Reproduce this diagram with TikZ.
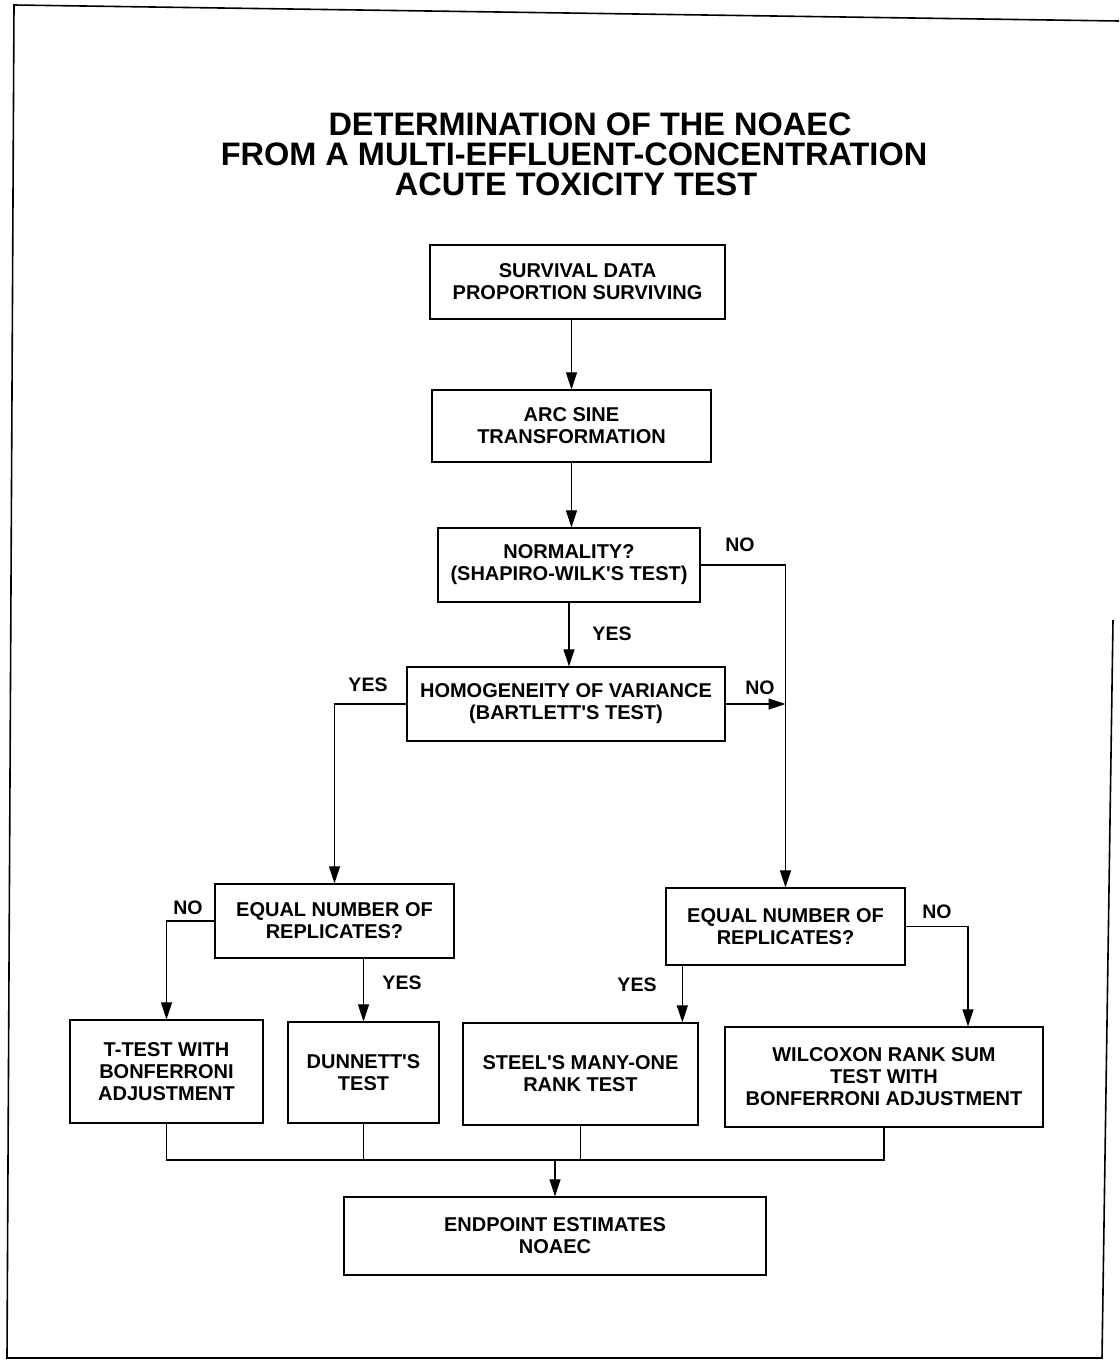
\documentclass[tikz,border=0pt]{standalone}
\usepackage{fontspec}
\setmainfont{Liberation Sans}[Ligatures=TeXOff]
\usetikzlibrary{arrows.meta,calc}
\begin{document}
\begin{tikzpicture}[x=1pt,y=-1pt,
  box/.style={draw, line width=1.3pt, align=center, inner sep=0pt,
    font=\bfseries\fontsize{20}{22}\selectfont},
  lab/.style={font=\bfseries\fontsize{19.5}{22}\selectfont, inner sep=0pt},
  ttl/.style={font=\bfseries\fontsize{32.5}{30}\selectfont, inner sep=0pt},
  conn/.style={line width=1.2pt},
  arr/.style={conn, -{Triangle[length=17pt,width=11pt]}}]
\useasboundingbox (0,0) rectangle (1119,1365);
% page frame
\draw[line width=1.6pt] (1119,21) -- (14,5) -- (7,1358) -- (1102,1358) -- (1113,620);
% title
\node[ttl] (t1) at (590,124) {DETERMINATION OF THE NOAEC};
\node[ttl] (t2) at (574,154) {FROM A MULTI-EFFLUENT-CONCENTRATION};
\node[ttl] (t3) at (576,184) {ACUTE TOXICITY TEST};
% boxes
\node[box, minimum width=295, minimum height=74] (b1) at (577.5,282) {SURVIVAL DATA\\PROPORTION SURVIVING};
\node[box, minimum width=279, minimum height=72] (b2) at (571.5,426) {ARC SINE\\TRANSFORMATION};
\node[box, minimum width=262, minimum height=74] (b3) at (569,565) {NORMALITY?\\(SHAPIRO-WILK'S TEST)};
\node[box, minimum width=318, minimum height=74] (b4) at (566,704) {HOMOGENEITY OF VARIANCE\\(BARTLETT'S TEST)};
\node[box, minimum width=239, minimum height=74] (b5) at (334.5,921) {EQUAL NUMBER OF\\REPLICATES?};
\node[box, minimum width=239, minimum height=77] (b6) at (785.5,926.5) {EQUAL NUMBER OF\\REPLICATES?};
\node[box, minimum width=193, minimum height=103] (b7) at (166.5,1071.5) {T-TEST WITH\\BONFERRONI\\ADJUSTMENT};
\node[box, minimum width=151, minimum height=101] (b8) at (363.5,1072.5) {DUNNETT'S\\TEST};
\node[box, minimum width=235, minimum height=102] (b9) at (580.5,1074) {STEEL'S MANY-ONE\\RANK TEST};
\node[box, minimum width=318, minimum height=100] (b10) at (884,1077) {WILCOXON RANK SUM\\TEST WITH\\BONFERRONI ADJUSTMENT};
\node[box, minimum width=422, minimum height=78] (b11) at (555,1236) {ENDPOINT ESTIMATES\\NOAEC};
% labels
\node[lab] (l1) at (740,545) {NO};
\node[lab] (l2) at (612,634) {YES};
\node[lab] (l3) at (368,685) {YES};
\node[lab] (l4) at (760,688) {NO};
\node[lab] (l5) at (188,908) {NO};
\node[lab] (l6) at (402,983) {YES};
\node[lab] (l7) at (637,985) {YES};
\node[lab] (l8) at (937,912) {NO};
% helper coordinates
\coordinate (s6) at ($(b6.south west)+(17,0)$);
\coordinate (t10) at ($(b10.north)+(84,0)$);
\coordinate (m) at (0,1160);
% connectors
\draw[arr] (b1.south -| b2.north) -- (b2.north);
\draw[arr] (b2.south) -- (b2.south |- b3.north);
\draw[arr] (b3.south) -- (b3.south |- b4.north);
\draw[arr] (b3.east) -| (b6.north);
\draw[arr] (b4.east) -- (b4.east -| b6.north);
\draw[arr] (b4.west) -| (b5.north);
\draw[arr] (b5.west) -| (b7.north);
\draw[arr] (b5.south -| b8.north) -- (b8.north);
\draw[arr] (s6) -- (s6 |- b9.north);
\draw[arr] (b6.east) -| (t10);
\draw[conn] (b7.south) -- (b7.south |- m) -- (b10.south |- m) -- (b10.south);
\draw[conn] (b8.south) -- (b8.south |- m);
\draw[conn] (b9.south) -- (b9.south |- m);
\draw[arr] (b11.north |- m) -- (b11.north);
\end{tikzpicture}
\end{document}
